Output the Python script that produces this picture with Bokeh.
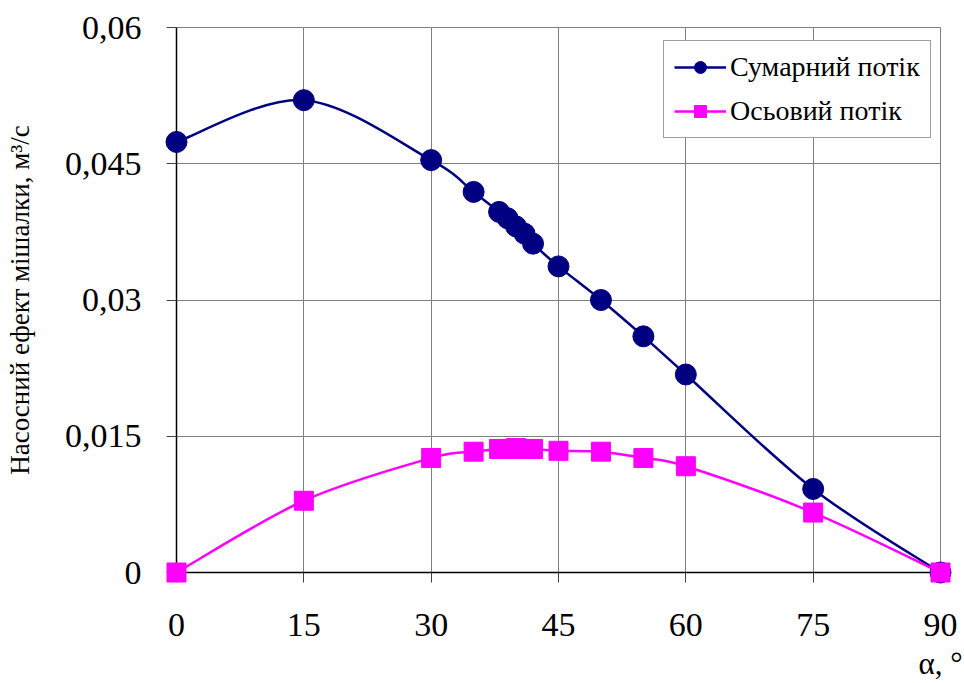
import numpy as np
from bokeh.plotting import figure
from bokeh.models import FixedTicker, Legend, LegendItem, Range1d, ColumnDataSource
from bokeh.embed import file_html
from bokeh.resources import INLINE

# ---- data ----
angles = [0, 15, 30, 35, 38, 39, 40, 41, 42, 45, 50, 55, 60, 75, 90]
total_flow = [0.0474, 0.0520, 0.0454, 0.0419, 0.0397, 0.0390, 0.0381, 0.0373,
              0.0362, 0.0337, 0.0300, 0.0260, 0.0218, 0.0092, 0.0]
axial_flow = [0.0, 0.0079, 0.0126, 0.0133, 0.0136, 0.0136, 0.0137, 0.0136,
              0.0136, 0.0134, 0.0133, 0.0126, 0.0117, 0.0066, 0.0]
x_ticks = [0, 15, 30, 45, 60, 75, 90]
y_ticks = [0, 0.015, 0.03, 0.045, 0.06]
y_tick_labels = ["0", "0,015", "0,03", "0,045", "0,06"]
series_names = ["Сумарний потік", "Осьовий потік"]
y_title = "Насосний ефект мішалки, м³/с"
x_title = "α, °"

FONT = "Liberation Serif"
NAVY = "#000080"
MAGENTA = "#FF00FF"


def smooth_segments(xs, ys, t=1.0 / 6.0):
    """Bezier control points (Catmull-Rom style, like a spreadsheet's smoothed line)."""
    x = np.asarray(xs, float)
    y = np.asarray(ys, float)
    n = len(x)
    xp = np.concatenate([[x[0]], x, [x[-1]]])
    yp = np.concatenate([[y[0]], y, [y[-1]]])
    return dict(
        x0=x[:-1], y0=y[:-1], x1=x[1:], y1=y[1:],
        cx0=x[:-1] + t * (xp[2:n + 1] - xp[0:n - 1]),
        cy0=y[:-1] + t * (yp[2:n + 1] - yp[0:n - 1]),
        cx1=x[1:] - t * (xp[3:n + 2] - xp[1:n]),
        cy1=y[1:] - t * (yp[3:n + 2] - yp[1:n]),
    )


p = figure(width=964, height=683, output_backend="svg", toolbar_location=None,
           x_range=Range1d(0, 90), y_range=Range1d(0, 0.06),
           min_border_left=176, min_border_right=24, min_border_top=27,
           min_border_bottom=111, background_fill_color="white",
           border_fill_color="white", outline_line_color="#808080")

# axes
p.xaxis.ticker = FixedTicker(ticks=x_ticks)
p.yaxis.ticker = FixedTicker(ticks=y_ticks)
p.yaxis.major_label_overrides = {t: l for t, l in zip(y_ticks, y_tick_labels)}
for ax in (p.xaxis[0], p.yaxis[0]):
    ax.major_label_text_font = FONT
    ax.major_label_text_font_size = "34px"
    ax.major_label_text_color = "black"
    ax.axis_line_color = "black"
    ax.axis_line_width = 1.5
    ax.major_tick_out = 10
    ax.major_tick_in = 0
    ax.major_tick_line_color = "#404040"
    ax.minor_tick_out = 0
    ax.minor_tick_in = 0
    ax.axis_label_text_font = FONT
    ax.axis_label_text_font_style = "normal"
    ax.axis_label_text_color = "black"
p.xaxis.major_label_standoff = 31
p.yaxis.major_label_standoff = 25

p.yaxis.axis_label = y_title
p.yaxis.axis_label_text_font_size = "27px"
p.yaxis.axis_label_standoff = 27

p.xaxis.axis_label = x_title
p.xaxis.axis_label_text_font_size = "31px"
p.xaxis.axis_label_standoff = 7
p.xaxis.axis_label_align = "end"

p.grid.grid_line_color = "#808080"
p.grid.grid_line_width = 1

# smoothed lines
seg1 = ColumnDataSource(smooth_segments(angles, total_flow))
seg2 = ColumnDataSource(smooth_segments(angles, axial_flow))
b1 = p.bezier(x0="x0", y0="y0", x1="x1", y1="y1", cx0="cx0", cy0="cy0",
              cx1="cx1", cy1="cy1", source=seg1, line_color=NAVY, line_width=2.5)
b2 = p.bezier(x0="x0", y0="y0", x1="x1", y1="y1", cx0="cx0", cy0="cy0",
              cx1="cx1", cy1="cy1", source=seg2, line_color=MAGENTA, line_width=2.5)

pts = ColumnDataSource(dict(a=angles, t=total_flow, ax=axial_flow))
s1 = p.scatter("a", "t", source=pts, marker="circle", size=21,
               fill_color=NAVY, line_color=NAVY, level="overlay")
s2 = p.scatter("a", "ax", source=pts, marker="square", size=19,
               fill_color=MAGENTA, line_color=MAGENTA, level="overlay")

legend = Legend(items=[LegendItem(label=series_names[0], renderers=[b1, s1]),
                       LegendItem(label=series_names[1], renderers=[b2, s2])],
                location=(487, 434))
legend.label_text_font = FONT
legend.label_text_font_size = "28px"
legend.label_text_color = "black"
legend.glyph_width = 52
legend.glyph_height = 30
legend.label_height = 30
legend.label_standoff = 4
legend.spacing = 12
legend.padding = 10
legend.margin = 0
legend.border_line_color = "#404040"
legend.border_line_width = 1
legend.background_fill_color = "white"
legend.background_fill_alpha = 1
p.add_layout(legend)

open("out.html", "w").write(file_html(p, INLINE))
